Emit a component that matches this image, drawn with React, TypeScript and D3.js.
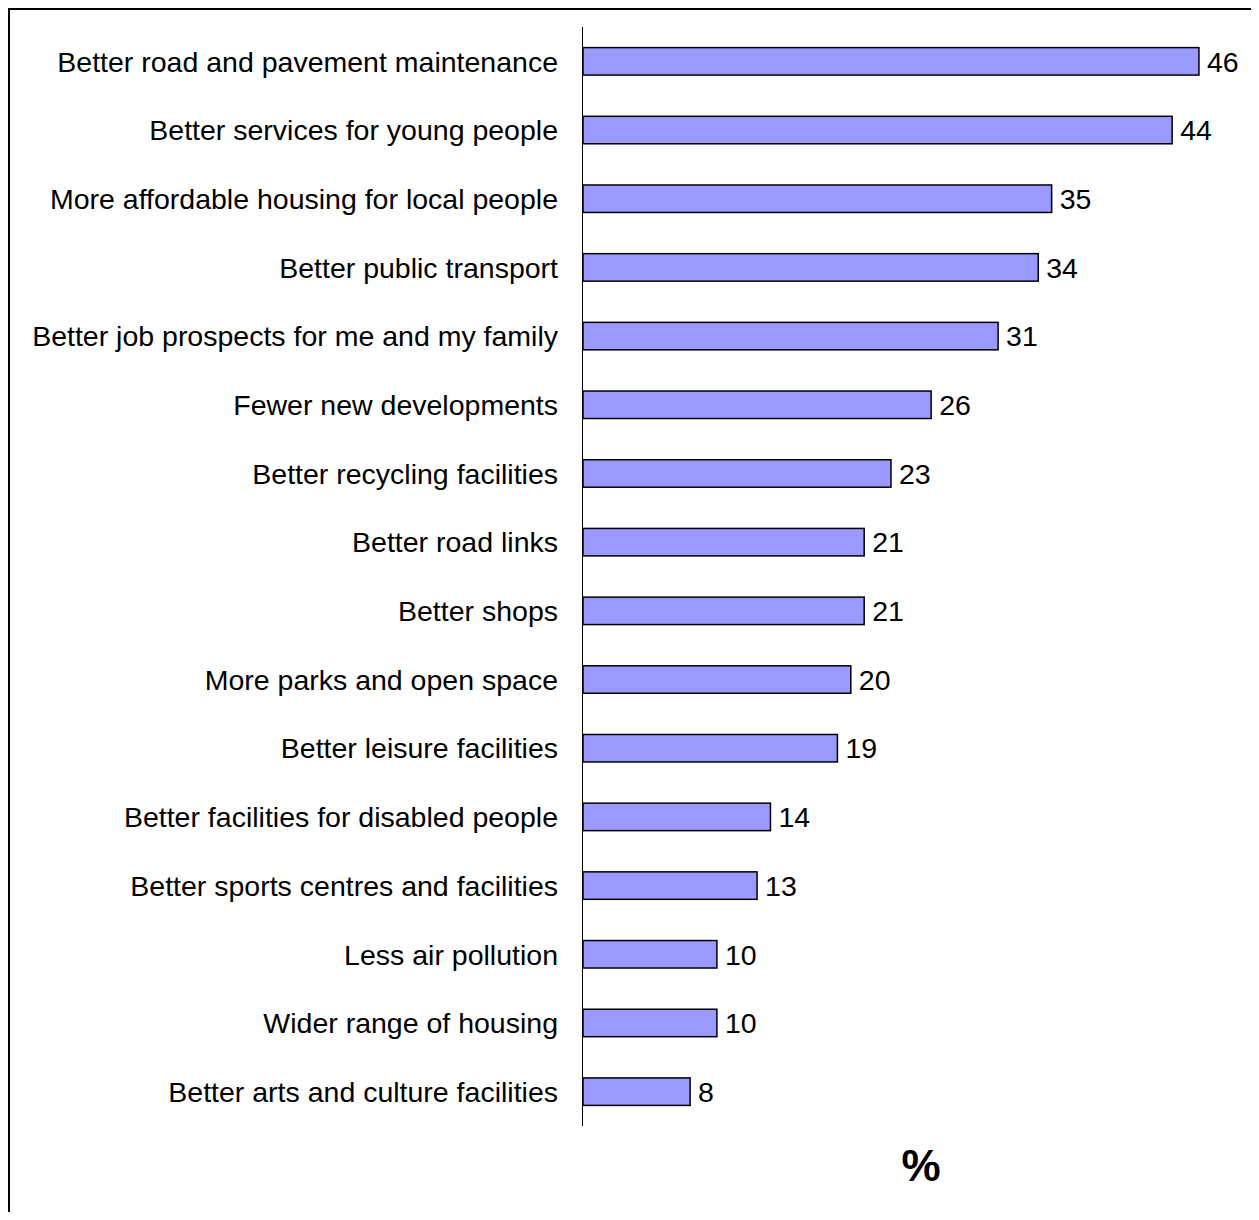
import React from "react";
import * as d3 from "d3";

const categories = [
  "Better road and pavement maintenance",
  "Better services for young people",
  "More affordable housing for local people",
  "Better public transport",
  "Better job prospects for me and my family",
  "Fewer new developments",
  "Better recycling facilities",
  "Better road links",
  "Better shops",
  "More parks and open space",
  "Better leisure facilities",
  "Better facilities for disabled people",
  "Better sports centres and facilities",
  "Less air pollution",
  "Wider range of housing",
  "Better arts and culture facilities",
];
const values = [46, 44, 35, 34, 31, 26, 23, 21, 21, 20, 19, 14, 13, 10, 10, 8];
const axisTitle = "%";

const W = 1251;
const H = 1204;
const FONT = "Liberation Sans, Arial, sans-serif";

export default function App() {
  const x0 = 575;
  const x = d3.scaleLinear().domain([0, 50]).range([x0, x0 + 50 * 13.39]);
  const y = d3
    .scaleBand<string>()
    .domain(categories)
    .range([19, 1118])
    .paddingInner(0.6)
    .paddingOuter(0.3);
  const bw = y.bandwidth();
  return (
    <svg width={W} height={H} style={{ display: "block" }}>
      <rect x={1} y={1} width={W + 100} height={H + 100} fill="white" stroke="black" strokeWidth={2} />
      {categories.map((c, i) => {
        const yy = y(c)!;
        return (
          <g key={c}>
            <rect
              x={x(0)}
              y={yy}
              width={x(values[i]) - x(0)}
              height={bw}
              fill="#9999FF"
              stroke="black"
              strokeWidth={1.5}
            />
            <text
              x={x0 - 25}
              y={yy + bw / 2}
              dy="0.36em"
              textAnchor="end"
              fontFamily={FONT}
              fontSize={28.5}
              fill="black"
            >
              {c}
            </text>
            <text
              x={x(values[i]) + 8}
              y={yy + bw / 2}
              dy="0.36em"
              textAnchor="start"
              fontFamily={FONT}
              fontSize={28.5}
              fill="black"
            >
              {values[i]}
            </text>
          </g>
        );
      })}
      <line x1={x0 - 0.5} x2={x0 - 0.5} y1={19} y2={1118} stroke="black" strokeWidth={1} />
      <text
        x={913}
        y={1173}
        textAnchor="middle"
        fontFamily={FONT}
        fontWeight="bold"
        fontSize={44}
        fill="black"
      >
        {axisTitle}
      </text>
    </svg>
  );
}
